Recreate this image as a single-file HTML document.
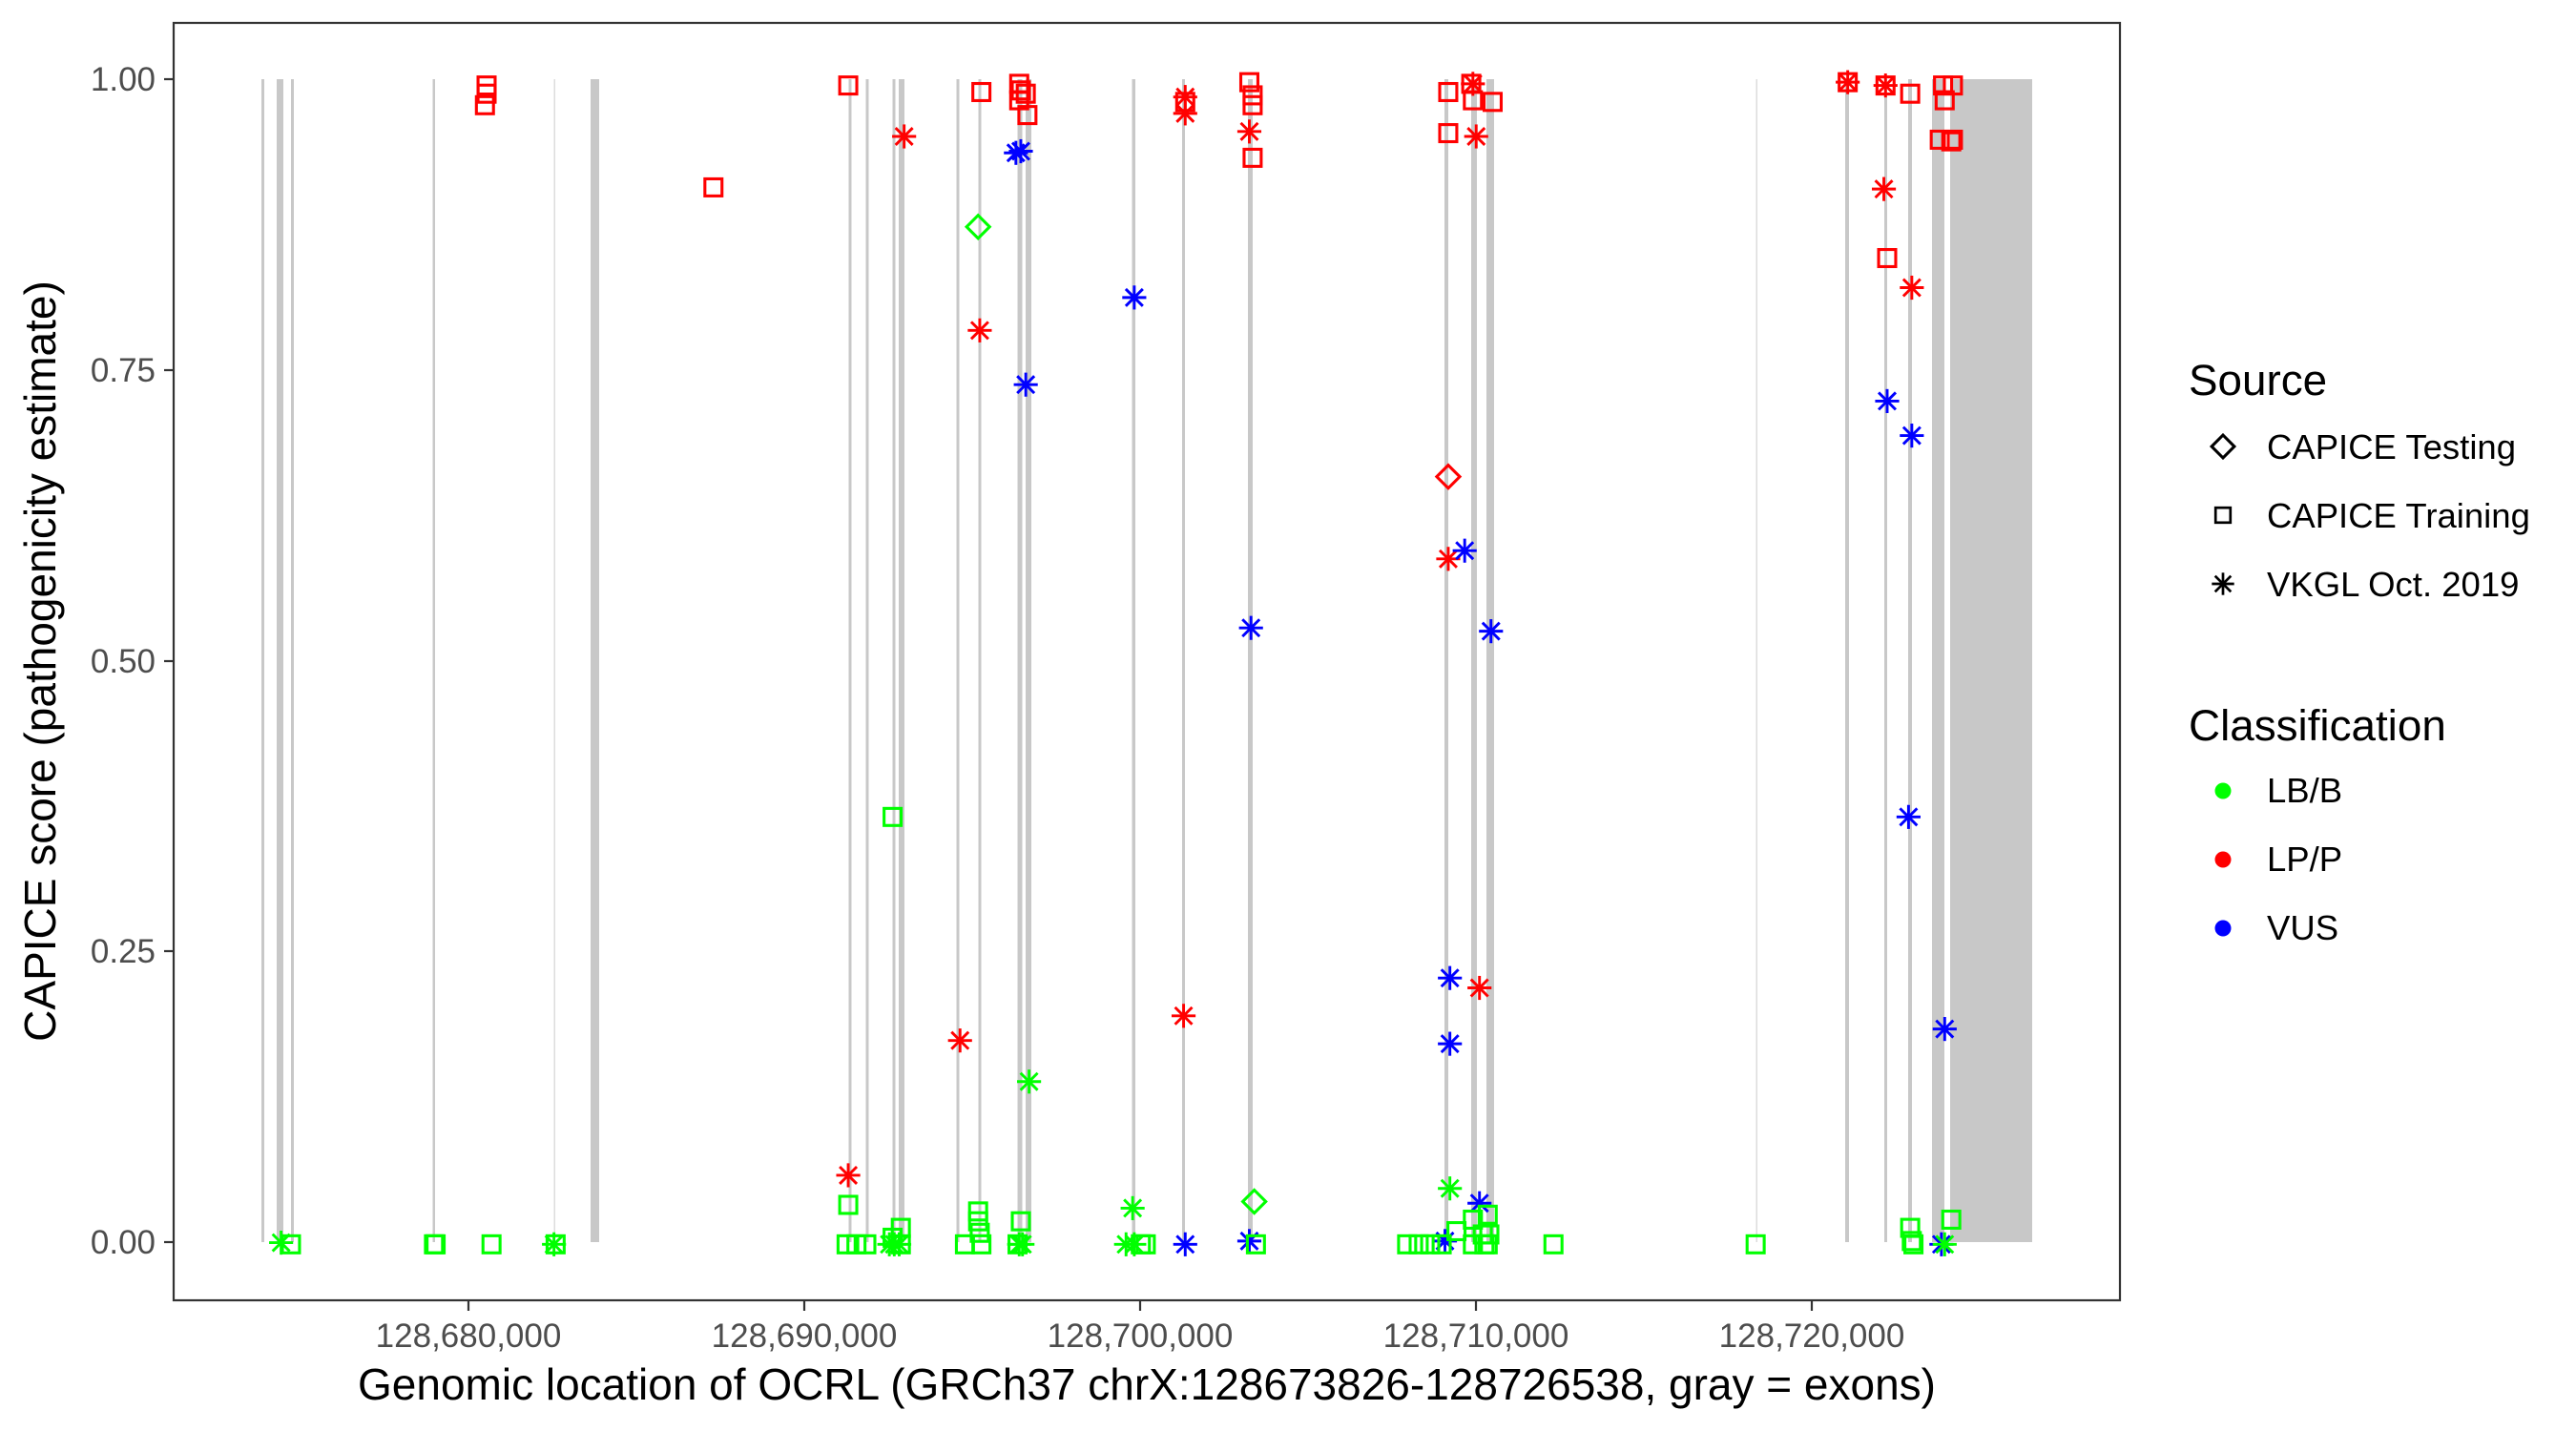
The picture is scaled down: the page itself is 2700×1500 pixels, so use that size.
<!DOCTYPE html>
<html><head><meta charset="utf-8"><style>html,body{margin:0;padding:0;background:#fff}svg{display:block}</style></head>
<body>
<svg width="2700" height="1500" viewBox="0 0 2700 1500" xmlns="http://www.w3.org/2000/svg" font-family="Liberation Sans, Arial, sans-serif">
<defs>
<g id="sq"><rect x="-5.2" y="-5.2" width="10.4" height="10.4" fill="none" stroke="currentColor" stroke-width="1.8"/></g>
<g id="di"><path d="M0,-7 L7,0 L0,7 L-7,0 Z" fill="none" stroke="currentColor" stroke-width="1.8"/></g>
<g id="as" stroke="currentColor" stroke-width="1.7"><line x1="0" y1="-7.3" x2="0" y2="7.3"/><line x1="-7.3" y1="0" x2="7.3" y2="0"/><line x1="-5.2" y1="-5.2" x2="5.2" y2="5.2"/><line x1="-5.2" y1="5.2" x2="5.2" y2="-5.2"/></g>
</defs>
<rect width="2700" height="1500" fill="#fff"/>
<g fill="#c8c8c8">
<rect x="274" y="83" width="3" height="1219"/>
<rect x="290" y="83" width="7" height="1219"/>
<rect x="305" y="83" width="3" height="1219"/>
<rect x="453.5" y="83" width="2.5" height="1219"/>
<rect x="580.5" y="83" width="1.5" height="1219" fill="#dcdcdc"/>
<rect x="619" y="83" width="9" height="1219"/>
<rect x="889.5" y="83" width="3" height="1219"/>
<rect x="907.5" y="83" width="3" height="1219"/>
<rect x="935.5" y="83" width="3" height="1219"/>
<rect x="942" y="83" width="6" height="1219"/>
<rect x="1002.5" y="83" width="3" height="1219"/>
<rect x="1025.5" y="83" width="3" height="1219"/>
<rect x="1066.5" y="83" width="5" height="1219"/>
<rect x="1075" y="83" width="6" height="1219"/>
<rect x="1186.5" y="83" width="3.5" height="1219"/>
<rect x="1239" y="83" width="3" height="1219"/>
<rect x="1308" y="83" width="5" height="1219"/>
<rect x="1514" y="83" width="4" height="1219"/>
<rect x="1542" y="83" width="6" height="1219"/>
<rect x="1558" y="83" width="8" height="1219"/>
<rect x="1840.5" y="83" width="1.5" height="1219" fill="#dcdcdc"/>
<rect x="1934" y="83" width="4" height="1219"/>
<rect x="1975" y="83" width="3" height="1219"/>
<rect x="2000" y="83" width="4" height="1219"/>
<rect x="2025" y="83" width="13" height="1219"/>
<rect x="2044" y="83" width="86" height="1219"/>
</g>
<rect x="182" y="24" width="2040" height="1339" fill="none" stroke="#333" stroke-width="2.2"/>
<g stroke="#333" stroke-width="2.2">
<line x1="172" y1="83" x2="182" y2="83"/><line x1="172" y1="388" x2="182" y2="388"/><line x1="172" y1="693" x2="182" y2="693"/><line x1="172" y1="997" x2="182" y2="997"/><line x1="172" y1="1302" x2="182" y2="1302"/>
<line x1="491" y1="1363" x2="491" y2="1374"/><line x1="843" y1="1363" x2="843" y2="1374"/><line x1="1195" y1="1363" x2="1195" y2="1374"/><line x1="1547" y1="1363" x2="1547" y2="1374"/><line x1="1899" y1="1363" x2="1899" y2="1374"/>
</g>
<g font-size="35" fill="#4d4d4d" text-anchor="end">
<text x="163" y="95">1.00</text><text x="163" y="400">0.75</text><text x="163" y="705">0.50</text><text x="163" y="1009">0.25</text><text x="163" y="1314">0.00</text>
</g>
<g font-size="35" fill="#4d4d4d" text-anchor="middle">
<text x="491" y="1412">128,680,000</text><text x="843" y="1412">128,690,000</text><text x="1195" y="1412">128,700,000</text><text x="1547" y="1412">128,710,000</text><text x="1899" y="1412">128,720,000</text>
</g>
<text x="1202" y="1467" font-size="46" text-anchor="middle" fill="#000">Genomic location of OCRL (GRCh37 chrX:128673826-128726538, gray = exons)</text>
<text transform="translate(58,693) rotate(-90)" font-size="46" text-anchor="middle" fill="#000">CAPICE score (pathogenicity estimate)</text>
<text x="2294" y="414" font-size="45.8" fill="#000">Source</text>
<g font-size="36.5" fill="#000">
<text x="2376" y="481">CAPICE Testing</text>
<text x="2376" y="553">CAPICE Training</text>
<text x="2376" y="625">VKGL Oct. 2019</text>
</g>
<text x="2294" y="776" font-size="45.8" fill="#000">Classification</text>
<g font-size="36.5" fill="#000">
<text x="2376" y="841">LB/B</text>
<text x="2376" y="913">LP/P</text>
<text x="2376" y="985">VUS</text>
</g>
<g color="#000">
<use href="#di" transform="translate(2330,468) scale(1.7)"/>
<use href="#sq" transform="translate(2330,540) scale(1.5)"/>
<use href="#as" transform="translate(2330,612) scale(1.6)"/>
</g>
<circle cx="2330" cy="829" r="8.5" fill="#00ff00"/>
<circle cx="2330" cy="901" r="8.5" fill="#ff0000"/>
<circle cx="2330" cy="973" r="8.5" fill="#0000ff"/>
<g transform="scale(1.723)">
<g color="#ff0000">
<use href="#sq" x="296" y="52"/><use href="#sq" x="296" y="57"/><use href="#sq" x="295" y="64"/>
<use href="#sq" x="434" y="114"/><use href="#sq" x="516" y="52"/><use href="#as" x="550" y="83"/>
<use href="#sq" x="597" y="56"/>
<use href="#sq" x="620" y="51"/><use href="#sq" x="621" y="55"/><use href="#sq" x="624" y="57"/><use href="#sq" x="620" y="61"/><use href="#sq" x="625" y="70"/>
<use href="#as" x="596" y="201"/>
<use href="#as" x="721" y="59"/><use href="#as" x="721" y="69"/><use href="#sq" x="721" y="62"/>
<use href="#sq" x="760" y="50"/><use href="#sq" x="762" y="58"/><use href="#sq" x="762" y="64"/><use href="#sq" x="762" y="96"/><use href="#as" x="760" y="80"/>
<use href="#as" x="584" y="633"/><use href="#as" x="720" y="618"/><use href="#as" x="516" y="715"/>
<use href="#sq" x="881" y="56"/><use href="#sq" x="881" y="81"/><use href="#sq" x="895" y="51"/><use href="#sq" x="896" y="61"/><use href="#sq" x="908" y="62"/>
<use href="#as" x="896" y="51"/><use href="#as" x="898" y="83"/>
<use href="#di" x="881" y="290"/><use href="#as" x="881" y="340"/><use href="#as" x="900" y="601"/>
<use href="#sq" x="1124" y="50"/><use href="#as" x="1124" y="50"/><use href="#sq" x="1147" y="52"/><use href="#as" x="1147" y="52"/>
<use href="#sq" x="1162" y="57"/><use href="#sq" x="1182" y="52"/><use href="#sq" x="1188" y="52"/><use href="#sq" x="1183" y="61"/>
<use href="#sq" x="1180" y="85"/><use href="#sq" x="1187" y="86"/><use href="#sq" x="1188" y="85"/>
<use href="#as" x="1146" y="115"/><use href="#sq" x="1148" y="157"/><use href="#as" x="1163" y="175"/>
</g>
<g color="#0000ff">
<use href="#as" x="618" y="93"/><use href="#as" x="621" y="92"/><use href="#as" x="624" y="234"/><use href="#as" x="690" y="181"/>
<use href="#as" x="761" y="382"/><use href="#as" x="721" y="757"/><use href="#as" x="760" y="755"/>
<use href="#as" x="891" y="335"/><use href="#as" x="907" y="384"/><use href="#as" x="882" y="595"/><use href="#as" x="882" y="635"/>
<use href="#as" x="900" y="732"/><use href="#as" x="879" y="755"/>
<use href="#as" x="1148" y="244"/><use href="#as" x="1163" y="265"/><use href="#as" x="1161" y="497"/><use href="#as" x="1183" y="626"/><use href="#as" x="1181" y="757"/>
</g>
<g color="#00ff00">
<use href="#di" x="595" y="138"/><use href="#di" x="763" y="731"/>
<use href="#sq" x="543" y="497"/><use href="#as" x="626" y="658"/><use href="#sq" x="516" y="733"/><use href="#as" x="689" y="735"/>
<use href="#sq" x="548" y="747"/><use href="#sq" x="595" y="737"/><use href="#sq" x="595" y="743"/><use href="#sq" x="621" y="743"/>
<use href="#as" x="171" y="756"/><use href="#sq" x="177" y="757"/>
<use href="#sq" x="264" y="757"/><use href="#sq" x="265" y="757"/><use href="#sq" x="299" y="757"/>
<use href="#as" x="337" y="757"/><use href="#sq" x="338" y="757"/>
<use href="#sq" x="515" y="757"/><use href="#sq" x="521" y="757"/><use href="#sq" x="527" y="757"/>
<use href="#as" x="541" y="757"/><use href="#as" x="547" y="757"/><use href="#as" x="544" y="757"/>
<use href="#sq" x="543" y="753"/><use href="#sq" x="548" y="757"/>
<use href="#sq" x="587" y="757"/><use href="#sq" x="597" y="757"/><use href="#sq" x="596" y="750"/>
<use href="#as" x="620" y="757"/><use href="#as" x="622" y="757"/><use href="#sq" x="619" y="757"/>
<use href="#as" x="685" y="757"/><use href="#as" x="690" y="757"/><use href="#sq" x="694" y="757"/><use href="#sq" x="697" y="757"/>
<use href="#sq" x="764" y="757"/>
<use href="#as" x="882" y="723"/>
<use href="#sq" x="856" y="757"/><use href="#sq" x="863" y="757"/><use href="#sq" x="870" y="757"/><use href="#sq" x="877" y="757"/>
<use href="#sq" x="886" y="749"/><use href="#sq" x="896" y="742"/><use href="#sq" x="905" y="739"/><use href="#sq" x="902" y="751"/><use href="#sq" x="906" y="751"/>
<use href="#sq" x="896" y="757"/><use href="#sq" x="905" y="757"/><use href="#sq" x="903" y="757"/><use href="#sq" x="945" y="757"/>
<use href="#sq" x="1068" y="757"/>
<use href="#sq" x="1162" y="747"/><use href="#sq" x="1163" y="755"/><use href="#sq" x="1164" y="757"/><use href="#sq" x="1187" y="742"/>
<use href="#as" x="1183" y="757"/>
</g>
</g>
</svg>
</body></html>
